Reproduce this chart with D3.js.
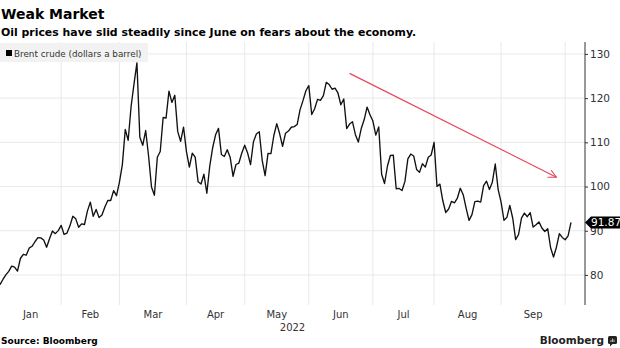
<!DOCTYPE html>
<html>
<head>
<meta charset="utf-8">
<script src="https://cdn.jsdelivr.net/npm/d3@7"></script>
<style>
  body { margin: 0; background: #fff; }
  svg { display: block; font-family: "DejaVu Sans", sans-serif; }
</style>
</head>
<body>
<svg id="chart" width="620" height="348"></svg>
<script>
// data //
const dates = [
  '2021-12-31',
  '2022-01-03', '2022-01-04', '2022-01-05', '2022-01-06', '2022-01-07', '2022-01-10', '2022-01-11',
  '2022-01-12', '2022-01-13', '2022-01-14', '2022-01-17', '2022-01-18', '2022-01-19', '2022-01-20',
  '2022-01-21', '2022-01-24', '2022-01-25', '2022-01-26', '2022-01-27', '2022-01-28', '2022-01-31',
  '2022-02-01', '2022-02-02', '2022-02-03', '2022-02-04', '2022-02-07', '2022-02-08', '2022-02-09',
  '2022-02-10', '2022-02-11', '2022-02-14', '2022-02-15', '2022-02-16', '2022-02-17', '2022-02-18',
  '2022-02-21', '2022-02-22', '2022-02-23', '2022-02-24', '2022-02-25', '2022-02-28',
  '2022-03-01', '2022-03-02', '2022-03-03', '2022-03-04', '2022-03-07', '2022-03-08', '2022-03-09',
  '2022-03-10', '2022-03-11', '2022-03-14', '2022-03-15', '2022-03-16', '2022-03-17', '2022-03-18',
  '2022-03-21', '2022-03-22', '2022-03-23', '2022-03-24', '2022-03-25', '2022-03-28', '2022-03-29',
  '2022-03-30', '2022-03-31',
  '2022-04-01', '2022-04-04', '2022-04-05', '2022-04-06', '2022-04-07', '2022-04-08', '2022-04-11',
  '2022-04-12', '2022-04-13', '2022-04-14', '2022-04-18', '2022-04-19', '2022-04-20', '2022-04-21',
  '2022-04-22', '2022-04-25', '2022-04-26', '2022-04-27', '2022-04-28', '2022-04-29',
  '2022-05-02', '2022-05-03', '2022-05-04', '2022-05-05', '2022-05-06', '2022-05-09', '2022-05-10',
  '2022-05-11', '2022-05-12', '2022-05-13', '2022-05-16', '2022-05-17', '2022-05-18', '2022-05-19',
  '2022-05-20', '2022-05-23', '2022-05-24', '2022-05-25', '2022-05-26', '2022-05-27', '2022-05-30',
  '2022-05-31',
  '2022-06-01', '2022-06-02', '2022-06-03', '2022-06-06', '2022-06-07', '2022-06-08', '2022-06-09',
  '2022-06-10', '2022-06-13', '2022-06-14', '2022-06-15', '2022-06-16', '2022-06-17', '2022-06-20',
  '2022-06-21', '2022-06-22', '2022-06-23', '2022-06-24', '2022-06-27', '2022-06-28', '2022-06-29',
  '2022-06-30',
  '2022-07-01', '2022-07-04', '2022-07-05', '2022-07-06', '2022-07-07', '2022-07-08', '2022-07-11',
  '2022-07-12', '2022-07-13', '2022-07-14', '2022-07-15', '2022-07-18', '2022-07-19', '2022-07-20',
  '2022-07-21', '2022-07-22', '2022-07-25', '2022-07-26', '2022-07-27', '2022-07-28', '2022-07-29',
  '2022-08-01', '2022-08-02', '2022-08-03', '2022-08-04', '2022-08-05', '2022-08-08', '2022-08-09',
  '2022-08-10', '2022-08-11', '2022-08-12', '2022-08-15', '2022-08-16', '2022-08-17', '2022-08-18',
  '2022-08-19', '2022-08-22', '2022-08-23', '2022-08-24', '2022-08-25', '2022-08-26', '2022-08-29',
  '2022-08-30', '2022-08-31',
  '2022-09-01', '2022-09-02', '2022-09-05', '2022-09-06', '2022-09-07', '2022-09-08', '2022-09-09',
  '2022-09-12', '2022-09-13', '2022-09-14', '2022-09-15', '2022-09-16', '2022-09-19', '2022-09-20',
  '2022-09-21', '2022-09-22', '2022-09-23', '2022-09-26', '2022-09-27', '2022-09-28', '2022-09-29',
  '2022-09-30',
  '2022-10-03', '2022-10-04'
]

const prices = [
  77.78,
  78.98, 80.00, 80.80, 81.99, 81.75, 80.87, 83.72, 84.67, 84.47, 86.06, 86.48, 87.51, 88.44, 88.38,
  87.89, 86.27, 88.20, 89.96, 89.34, 90.03, 91.21,
  89.16, 89.47, 91.11, 93.27, 92.69, 90.78, 91.55, 91.41, 94.44, 96.48, 93.28, 94.81, 92.97, 93.54,
  95.39, 96.84, 96.84, 99.08, 97.93, 100.99,
  104.97, 112.93, 110.46, 118.11, 123.21, 127.98, 111.14, 109.33, 112.67, 106.90, 99.91, 98.02, 106.64,
  107.93, 115.62, 115.48, 121.60, 119.03, 120.65, 112.48, 110.23, 113.45, 107.91,
  104.39, 107.53, 106.64, 101.07, 100.58, 102.78, 98.48, 104.64, 108.78, 111.70, 113.16, 107.25, 106.80,
  108.33, 106.65, 102.32, 104.99, 105.32, 107.59, 109.34,
  107.58, 104.97, 110.14, 111.90, 112.39, 105.94, 102.46, 107.51, 107.45, 111.55, 114.24, 111.93, 109.11,
  112.04, 112.55, 113.42, 113.56, 114.03, 117.40, 119.43, 121.67, 122.84,
  116.29, 117.61, 119.72, 119.51, 120.57, 123.58, 123.07, 122.01, 122.27, 121.17, 118.51, 119.81, 113.12,
  114.13, 114.65, 111.74, 110.05, 113.12, 115.09, 117.98, 116.26, 114.81,
  111.63, 113.50, 102.77, 100.69, 104.65, 107.02, 107.10, 99.49, 99.57, 99.10, 101.16, 106.27, 107.35,
  106.92, 103.86, 103.20, 105.15, 104.40, 106.62, 107.14, 110.01,
  100.03, 100.54, 96.78, 94.12, 94.92, 96.65, 96.31, 97.40, 99.60, 98.15, 95.10, 92.34, 93.65, 96.59,
  96.72, 96.48, 100.22, 101.22, 99.34, 100.99, 105.09, 99.31, 96.49,
  92.36, 93.02, 95.74, 92.83, 88.00, 89.15, 92.84, 94.00, 93.17, 94.10, 90.84, 91.35, 92.00, 90.62,
  89.83, 90.46, 86.15, 84.06, 86.27, 89.32, 88.49, 87.96,
  88.86, 91.87
]

const monthLabels = ['Jan', 'Feb', 'Mar', 'Apr', 'May', 'Jun', 'Jul', 'Aug', 'Sep']
const yearLabel = '2022'
const yTicks = [80, 90, 100, 110, 120, 130]
const trendArrow = [
  { date: '2022-06-20', value: 125.6 },
  { date: '2022-09-27', value: 102.1 }
]

// layout //
const plot = { left: 0, right: 585, top: 42, bottom: 305 }
const lineColor = '#111'
const gridColor = '#e9e9e9'
const arrowColor = '#e8465c'

const svg = d3.select('#chart')

const x = d3.scaleLinear()
  .domain([0, dates.length - 1])
  .range([0, 571])

const y = d3.scaleLinear()
  .domain([73.2, 132.7])
  .range([plot.bottom, plot.top])

const dateIndex = new Map(dates.map((d, i) => [d, i]))

// last trading day of every month
const monthEnds = []
dates.forEach((d, i) => {
  if (i < dates.length - 1 && d.slice(5, 7) !== dates[i + 1].slice(5, 7)) monthEnds.push(i)
})

// clip so the line stays inside the plot
svg.append('defs').append('clipPath')
  .attr('id', 'plot-clip')
  .append('rect')
  .attr('x', plot.left)
  .attr('y', plot.top)
  .attr('width', plot.right - plot.left)
  .attr('height', plot.bottom - plot.top)

svg.select('defs').append('marker')
  .attr('id', 'arrowhead')
  .attr('viewBox', '0 -5 10 10')
  .attr('refX', 9)
  .attr('refY', 0)
  .attr('markerWidth', 9)
  .attr('markerHeight', 9)
  .attr('markerUnits', 'userSpaceOnUse')
  .attr('orient', 'auto')
  .append('path')
  .attr('d', 'M0,-4.5L9,0L0,4.5')
  .attr('fill', 'none')
  .attr('stroke', arrowColor)
  .attr('stroke-width', 1.2)

// grid //
const grid = svg.append('g')

grid.selectAll('.hgrid')
  .data(yTicks)
  .enter()
  .append('line')
  .attr('x1', plot.left)
  .attr('x2', plot.right)
  .attr('y1', d => y(d))
  .attr('y2', d => y(d))
  .attr('stroke', gridColor)

grid.selectAll('.vgrid')
  .data(monthEnds.slice(1))
  .enter()
  .append('line')
  .attr('x1', d => x(d))
  .attr('x2', d => x(d))
  .attr('y1', plot.top)
  .attr('y2', plot.bottom)
  .attr('stroke', gridColor)

// legend //
svg.append('rect')
  .attr('x', 0)
  .attr('y', 43)
  .attr('width', 148)
  .attr('height', 19)
  .attr('fill', '#f2f2f2')

svg.append('rect')
  .attr('x', 6)
  .attr('y', 50)
  .attr('width', 6)
  .attr('height', 6)
  .attr('fill', '#000')

svg.append('text')
  .attr('x', 14)
  .attr('y', 56.5)
  .style('font-size', '8.8px')
  .attr('fill', '#333')
  .text('Brent crude (dollars a barrel)')

// price line //
const line = d3.line()
  .x((d, i) => x(i))
  .y(d => y(d))

svg.append('path')
  .datum(prices)
  .attr('clip-path', 'url(#plot-clip)')
  .attr('d', line)
  .attr('fill', 'none')
  .attr('stroke', lineColor)
  .attr('stroke-width', 1.35)
  .attr('stroke-linejoin', 'round')

// trend arrow //
svg.append('line')
  .attr('x1', x(dateIndex.get(trendArrow[0].date)))
  .attr('y1', y(trendArrow[0].value))
  .attr('x2', x(dateIndex.get(trendArrow[1].date)))
  .attr('y2', y(trendArrow[1].value))
  .attr('stroke', arrowColor)
  .attr('stroke-width', 1.2)
  .attr('marker-end', 'url(#arrowhead)')

// y axis on the right //
const yAxis = d3.axisRight(y)
  .tickValues(yTicks)
  .tickSize(3)
  .tickPadding(2)

const axisG = svg.append('g')
  .attr('transform', `translate(${plot.right}, 0)`)
  .call(yAxis)

axisG.select('.domain')
  .attr('d', `M0,${plot.top}V${plot.bottom}`)
  .attr('stroke', '#333')
axisG.selectAll('.tick line').attr('stroke', '#333')
axisG.selectAll('.tick text')
  .attr('fill', '#333')
  .style('font-size', '10.5px')
  .style('font-family', '"DejaVu Sans", sans-serif')

// last value tag, drawn over the 90 label as in the original
const lastY = y(prices[prices.length - 1])
svg.append('path')
  .attr('d', `M${plot.right},${lastY}L${plot.right + 6},${lastY - 6}H620V${lastY + 6}H${plot.right + 6}Z`)
  .attr('fill', '#000')

svg.append('text')
  .attr('x', plot.right + 6)
  .attr('y', lastY)
  .attr('dy', '0.35em')
  .attr('fill', '#fff')
  .style('font-size', '10.5px')
  .text(prices[prices.length - 1].toFixed(2))

// month labels //
const monthMid = monthLabels.map((m, i) => ({ name: m, mid: (monthEnds[i] + monthEnds[i + 1]) / 2 }))

svg.selectAll('.month')
  .data(monthMid)
  .enter()
  .append('text')
  .attr('x', d => x(d.mid))
  .attr('y', 318)
  .attr('text-anchor', 'middle')
  .attr('fill', '#333')
  .style('font-size', '10px')
  .text(d => d.name)

svg.append('text')
  .attr('x', (plot.left + plot.right) / 2)
  .attr('y', 331)
  .attr('text-anchor', 'middle')
  .attr('fill', '#333')
  .style('font-size', '10px')
  .text(yearLabel)

// titles //
svg.append('text')
  .attr('x', 1)
  .attr('y', 18.5)
  .style('font-size', '14px')
  .style('font-weight', 'bold')
  .attr('fill', '#000')
  .text('Weak Market')

svg.append('text')
  .attr('x', 1)
  .attr('y', 35.5)
  .style('font-size', '10.9px')
  .style('font-weight', 'bold')
  .attr('fill', '#000')
  .text('Oil prices have slid steadily since June on fears about the economy.')

// footer //
svg.append('text')
  .attr('x', 1)
  .attr('y', 344)
  .style('font-size', '9px')
  .style('font-weight', 'bold')
  .attr('fill', '#000')
  .text('Source: Bloomberg')

svg.append('text')
  .attr('x', 604)
  .attr('y', 344)
  .attr('text-anchor', 'end')
  .style('font-size', '10.5px')
  .style('font-weight', 'bold')
  .attr('fill', '#222')
  .text('Bloomberg')

const logo = svg.append('g').attr('transform', 'translate(608, 336)')
logo.append('rect')
  .attr('width', 9)
  .attr('height', 8)
  .attr('rx', 1.5)
  .attr('fill', '#222')
logo.append('path')
  .attr('d', 'M2,8L2,10.5L4.5,8Z')
  .attr('fill', '#222')
logo.append('path')
  .attr('d', 'M3,6V4M4.5,6V2.5M6,6V3.5')
  .attr('stroke', '#ddd')
  .attr('stroke-width', 0.8)
</script>
</body>
</html>
